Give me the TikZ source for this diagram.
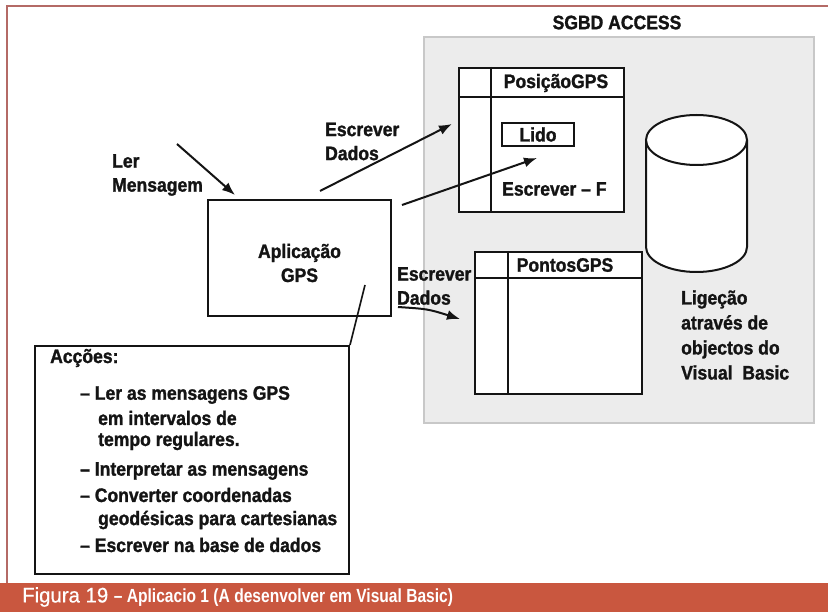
\documentclass[tikz,border=0pt]{standalone}
\usepackage{fontspec}
\setmainfont{Liberation Sans}[FakeStretch=0.9, BoldFeatures={FakeBold=1.3}]
\newfontfamily\capfont{Liberation Sans}[FakeStretch=0.82, Ligatures=TeX]
\newfontfamily\figfont{Liberation Sans}[FakeStretch=0.97, FakeBold=0.6]
\usetikzlibrary{arrows.meta}
\definecolor{ink}{HTML}{141414}
\definecolor{framecol}{HTML}{B46A66}
\definecolor{banner}{HTML}{C9573F}
\definecolor{dbgray}{HTML}{ECECEC}
\definecolor{dbedge}{HTML}{C8C8C8}
\begin{document}
\begin{tikzpicture}[x=1pt,y=-1pt,
  lbl/.style={font=\bfseries\fontsize{19.5}{24}\selectfont, text=ink, inner sep=0pt, align=left},
  ln/.style={draw=ink, line width=2pt},
  arr/.style={draw=ink, line width=2pt, -{Latex[length=13pt,width=10pt]}},
  boxnode/.style={draw=ink, line width=2pt, fill=white, inner sep=0pt},
]
\useasboundingbox (0,0) rectangle (828,612);
\fill[white] (0,0) rectangle (828,612);
% frame and banner
\draw[framecol, line width=2.2pt] (828,6) -- (7,6) -- (7,583);
\fill[banner] (0,583) rectangle (828,612);
\node[anchor=west, text=white, inner sep=0pt] (cap) at (22,597)
  {\figfont\fontsize{21}{21}\selectfont Figura 19\ {\capfont\bfseries\fontsize{19}{19}\selectfont – Aplicacio 1 (A desenvolver em Visual Basic)}};
% database area
\node[draw=dbedge, fill=dbgray, line width=2pt, minimum width=390pt, minimum height=386pt, inner sep=0pt] (db) at (619,230) {};
\node[lbl] (title) at (617,22.5) {SGBD ACCESS};
% PosicaoGPS table
\node[boxnode, minimum width=165pt, minimum height=144pt] (pos) at (541.5,140) {};
\draw[ln] ([yshift=-30pt]pos.north west) -- ([yshift=-30pt]pos.north east);
\draw[ln] ([xshift=33pt]pos.north west) -- ([xshift=33pt]pos.south west);
\node[lbl] (posh) at (556,83) {PosiçãoGPS};
\node[boxnode, minimum width=72pt, minimum height=23pt] (lido) at (538,134.5) {};
\node[lbl] (lidot) at (538,134.5) {Lido};
\node[lbl, anchor=west] (escf) at (502,189) {Escrever – F};
% PontosGPS table
\node[boxnode, minimum width=167pt, minimum height=142pt] (pont) at (558.5,323) {};
\draw[ln] ([yshift=-27pt]pont.north west) -- ([yshift=-27pt]pont.north east);
\draw[ln] ([xshift=34pt]pont.north west) -- ([xshift=34pt]pont.south west);
\node[lbl] (ponth) at (565,265) {PontosGPS};
% cylinder
\draw[ln, fill=white] (646,140) -- (646,247) arc[start angle=180, end angle=0, x radius=50.5, y radius=25] -- (747,140);
\draw[ln, fill=white] (696.5,140) ellipse[x radius=50.5, y radius=25];
\node[lbl, anchor=west, font=\bfseries\fontsize{19.5}{25}\selectfont] (lig) at (681,335) {Ligeção\\através de\\objectos do\\Visual\ \ Basic};
% application box
\node[draw=ink, line width=1.5pt, fill=white, minimum width=183pt, minimum height=116pt, inner sep=0pt] (app) at (299.5,258) {};
\node[lbl, align=center] (appt) at (299.5,263) {Aplicação\\GPS};
% labels
\node[lbl, anchor=west] (ler) at (112,175) {Ler\\Mensagem};
\node[lbl, anchor=west] (esc1) at (325,141.5) {Escrever\\Dados};
\node[lbl, anchor=west] (esc2) at (397,286) {Escrever\\Dados};
% arrows
\coordinate (lerA) at (177,144);
\coordinate (lerB) at (235,195);
\draw[arr] (lerA) -- (lerB);
\coordinate (d1a) at (320,191);
\coordinate (d1b) at (452,124);
\draw[arr] (d1a) -- (d1b);
\coordinate (d3a) at (402,205);
\coordinate (d3b) at (537,158);
\draw[arr] (d3a) -- (d3b);
\coordinate (d2a) at (398,307);
\coordinate (d2b) at (460,319);
\draw[arr] (d2a) .. controls (428,309) .. (d2b);
% actions box
\node[draw=ink, line width=2pt, fill=white, minimum width=314pt, minimum height=228pt, inner sep=0pt] (acoes) at (192,460) {};
\coordinate (cl) at (365,285);
\draw[draw=ink, line width=1.6pt] (cl) -- (acoes.north east);
\node[lbl, anchor=west] (a0) at (50,358) {Acções:};
\node[lbl, anchor=west] (a1) at (80,395) {– Ler as mensagens GPS};
\node[lbl, anchor=west] (a2) at (98,418) {em intervalos de};
\node[lbl, anchor=west] (a3) at (98,441) {tempo regulares.};
\node[lbl, anchor=west] (a4) at (80,471) {– Interpretar as mensagens};
\node[lbl, anchor=west] (a5) at (80,495) {– Converter coordenadas};
\node[lbl, anchor=west] (a6) at (98,520) {geodésicas para cartesianas};
\node[lbl, anchor=west] (a7) at (80,545) {– Escrever na base de dados};
\end{tikzpicture}
\end{document}
